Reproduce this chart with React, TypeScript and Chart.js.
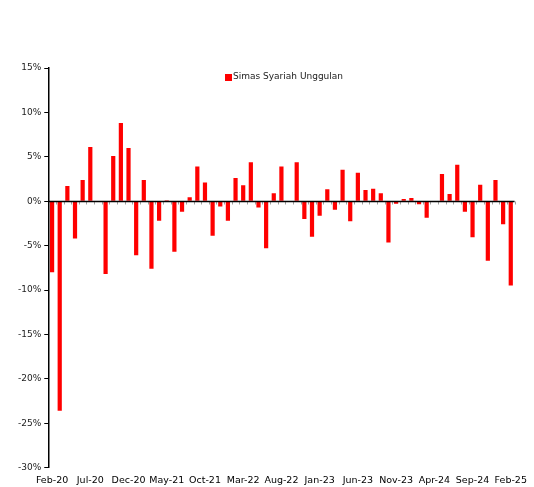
import React, { useEffect, useRef } from "react";
import { Chart, registerables } from "chart.js";

Chart.register(...registerables);

const months: string[] = [
  "Feb-20","Mar-20","Apr-20","May-20","Jun-20","Jul-20","Aug-20","Sep-20","Oct-20","Nov-20","Dec-20",
  "Jan-21","Feb-21","Mar-21","Apr-21","May-21","Jun-21","Jul-21","Aug-21","Sep-21","Oct-21","Nov-21","Dec-21",
  "Jan-22","Feb-22","Mar-22","Apr-22","May-22","Jun-22","Jul-22","Aug-22","Sep-22","Oct-22","Nov-22","Dec-22",
  "Jan-23","Feb-23","Mar-23","Apr-23","May-23","Jun-23","Jul-23","Aug-23","Sep-23","Oct-23","Nov-23","Dec-23",
  "Jan-24","Feb-24","Mar-24","Apr-24","May-24","Jun-24","Jul-24","Aug-24","Sep-24","Oct-24","Nov-24","Dec-24",
  "Jan-25","Feb-25",
];

const returnsPct: number[] = [
  -8.0, -23.6, 1.7, -4.2, 2.4, 6.1, 0.0, -8.2, 5.1, 8.8, 6.0,
  -6.1, 2.4, -7.6, -2.2, 0.1, -5.7, -1.2, 0.45, 3.9, 2.1, -3.9, -0.6,
  -2.2, 2.6, 1.8, 4.4, -0.7, -5.3, 0.9, 3.9, -0.1, 4.4, -2.0, -4.0,
  -1.65, 1.35, -0.95, 3.55, -2.25, 3.2, 1.25, 1.4, 0.9, -4.65, -0.3, 0.25,
  0.35, -0.35, -1.85, 0.0, 3.05, 0.8, 4.1, -1.2, -4.05, 1.85, -6.7, 2.4,
  -2.6, -9.5,
];

const seriesName = "Simas Syariah Unggulan";
const seriesColor = "#ff0000";
const yMin = -30;
const yMax = 15;
const yStep = 5;
const labelEvery = 5;

const FONT = "'DejaVu Sans', sans-serif";

const zeroLinePlugin = {
  id: "zeroLine",
  afterDatasetsDraw(chart: any) {
    const { ctx, chartArea, scales } = chart;
    const y = Math.round(scales.y.getPixelForValue(0)) + 0.5;
    ctx.save();
    ctx.strokeStyle = "#a0a0a0";
    ctx.lineWidth = 1;
    const n = months.length;
    const w = (chartArea.right - chartArea.left) / n;
    for (let i = 1; i <= n; i++) {
      const x = Math.round(chartArea.left + i * w) + 0.5;
      ctx.beginPath();
      ctx.moveTo(x, y);
      ctx.lineTo(x, y + 3);
      ctx.stroke();
    }
    ctx.strokeStyle = "#000000";
    ctx.lineWidth = 1.5;
    ctx.beginPath();
    ctx.moveTo(chartArea.left, y);
    ctx.lineTo(chartArea.right, y);
    ctx.stroke();
    ctx.restore();
  },
};

const innerLegendPlugin = {
  id: "innerLegend",
  afterDraw(chart: any) {
    const { ctx, chartArea } = chart;
    const ds = chart.data.datasets[0];
    ctx.save();
    ctx.font = `9px ${FONT}`;
    const tw = ctx.measureText(ds.label).width;
    const box = 7;
    const total = box + 1 + tw;
    const cx = (chartArea.left + chartArea.right) / 2 + 3;
    const x0 = Math.round(cx - total / 2);
    const yc = chartArea.top + 9;
    ctx.fillStyle = ds.backgroundColor;
    ctx.fillRect(x0, Math.round(yc - box / 2), box, box);
    ctx.fillStyle = "#222222";
    ctx.textBaseline = "middle";
    ctx.textAlign = "left";
    ctx.fillText(ds.label, x0 + box + 1, yc);
    ctx.restore();
  },
};

export default function App() {
  const ref = useRef<HTMLCanvasElement>(null);

  useEffect(() => {
    document.body.style.margin = "0";
    const chart = new Chart(ref.current as HTMLCanvasElement, {
      type: "bar",
      data: {
        labels: months,
        datasets: [
          {
            label: seriesName,
            data: returnsPct,
            backgroundColor: seriesColor,
            borderWidth: 0,
            barPercentage: 0.55,
            categoryPercentage: 1,
          },
        ],
      },
      options: {
        animation: false,
        responsive: false,
        maintainAspectRatio: false,
        layout: { padding: { top: 68, right: 8, left: 15, bottom: -6 } },
        plugins: {
          tooltip: { enabled: false },
          legend: { display: false },
        },
        scales: {
          x: {
            grid: { display: false, drawTicks: false },
            border: { display: false },
            ticks: {
              autoSkip: false,
              maxRotation: 0,
              minRotation: 0,
              padding: 7,
              color: "#000000",
              font: { family: FONT, size: 9.5 },
              callback: (_v: any, i: number) => (i % labelEvery === 0 ? months[i] : ""),
            },
          },
          y: {
            min: yMin,
            max: yMax,
            border: { display: true, color: "#000000", width: 1.5 },
            grid: { drawOnChartArea: false, drawTicks: true, tickLength: 4, color: "#000000" },
            ticks: {
              stepSize: yStep,
              padding: 3,
              color: "#222222",
              font: { family: FONT, size: 9 },
              callback: (v: any) => `${v}%`,
            },
          },
        },
      },
      plugins: [zeroLinePlugin, innerLegendPlugin],
    });
    return () => chart.destroy();
  }, []);

  return (
    <div style={{ position: "absolute", left: 0, top: 0, width: 534, height: 487 }}>
      <canvas ref={ref} width={534} height={487} style={{ width: 534, height: 487 }} />
    </div>
  );
}
